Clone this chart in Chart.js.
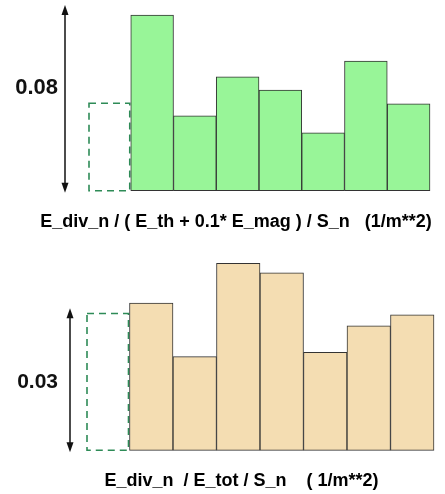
<!DOCTYPE html>
<html>
<head>
<meta charset="utf-8">
<script src="https://cdn.jsdelivr.net/npm/chart.js@4.4.0/dist/chart.umd.min.js"></script>
<style>
body { margin: 0; background: #fff; }
canvas { display: block; }
</style>
</head>
<body>
<canvas id="c1" width="445" height="245"></canvas>
<canvas id="c2" width="445" height="249"></canvas>
<script>
"use strict";

// bins: the first one is the reference bin (drawn as a dashed outline only)
let bins = ['ref', 'b1', 'b2', 'b3', 'b4', 'b5', 'b6', 'b7'];

let magVals = [0.0377, 0.0757, 0.0323, 0.0491, 0.0433, 0.0249, 0.0558, 0.0374];
let totVals = [0.0289, 0.0311, 0.0198, 0.0395, 0.0375, 0.0207, 0.0263, 0.0286];

// length of the scale arrow on the left of each panel
let magSpan = 0.08;
let totSpan = 0.03;

let magTitle = 'E_div_n / ( E_th + 0.1* E_mag ) / S_n   (1/m**2)';
let totTitle = 'E_div_n  / E_tot / S_n    ( 1/m**2)';

let FONT = '"Liberation Sans", Arial, sans-serif';

// dashed reference bar, scale arrow + its label, caption under the bars
let refBar = {
    id: 'refBar',
    beforeDatasetsDraw(chart, args, o) {
        let el = chart.getDatasetMeta(0).data[0];
        let p = el.getProps(['x', 'y', 'base', 'width'], true);
        let ctx = chart.ctx;
        ctx.save();
        ctx.strokeStyle = '#2e8b57';
        ctx.lineWidth = 1.6;
        ctx.setLineDash([7, 5]);
        ctx.strokeRect(p.x - p.width / 2 + 1, p.y, p.width - 2, p.base - p.y);
        ctx.restore();
    },
    afterDraw(chart, args, o) {
        let ctx = chart.ctx;
        let ys = chart.scales.y;
        let top = ys.getPixelForValue(o.span);
        let bot = ys.getPixelForValue(0) + 2;
        let x = o.arrowX;
        ctx.save();
        ctx.strokeStyle = '#111';
        ctx.fillStyle = '#111';
        ctx.lineWidth = 1.5;
        ctx.beginPath();
        ctx.moveTo(x, top + 6);
        ctx.lineTo(x, bot - 6);
        ctx.stroke();
        // heads
        ctx.beginPath();
        ctx.moveTo(x, top);
        ctx.lineTo(x - 3.5, top + 10);
        ctx.lineTo(x + 3.5, top + 10);
        ctx.closePath();
        ctx.fill();
        ctx.beginPath();
        ctx.moveTo(x, bot);
        ctx.lineTo(x - 3.5, bot - 10);
        ctx.lineTo(x + 3.5, bot - 10);
        ctx.closePath();
        ctx.fill();

        ctx.font = 'bold ' + o.labelSize + 'px ' + FONT;
        ctx.textAlign = 'right';
        ctx.textBaseline = 'middle';
        ctx.fillText(String(o.span), o.labelRight, top + (bot - top) * o.labelPos);

        ctx.font = 'bold 18px ' + FONT;
        ctx.textAlign = 'center';
        ctx.fillStyle = '#000';
        ctx.fillText(o.caption, o.captionX, ys.getPixelForValue(0) + 31);
        ctx.restore();
    }
};

function makeChart(id, vals, color, ymax, pad, o) {
    let opts = {
        type: 'bar',
        data: {
            labels: bins,
            datasets: [{
                data: vals,
                backgroundColor: c => c.dataIndex === 0 ? 'rgba(0,0,0,0)' : color,
                borderColor: '#333',
                borderWidth: c => c.dataIndex === 0 ? 0 : 1,
                borderSkipped: false,
                categoryPercentage: 1,
                barPercentage: 1,
                clip: false,
            }],
        },
        options: {
            responsive: false,
            animation: false,
            layout: { padding: pad },
            scales: {
                x: { display: false },
                y: { display: false, min: 0, max: ymax },
            },
            plugins: {
                legend: { display: false },
                tooltip: { enabled: false },
                refBar: o,
            },
        },
        plugins: [refBar],
    };
    return new Chart(document.querySelector(id), opts);
}

let chart1 = makeChart('#c1', magVals, '#98f598', 0.08,
    { left: 88, right: 15, top: 5, bottom: 54.3 },
    { span: magSpan, arrowX: 65, labelRight: 58, labelSize: 22, labelPos: 0.44,
      caption: magTitle, captionX: 236 });

let chart2 = makeChart('#c2', totVals, '#f4ddb2', 0.04,
    { left: 86, right: 11, top: 16, bottom: 43.7 },
    { span: totSpan, arrowX: 70, labelRight: 58, labelSize: 21, labelPos: 0.512,
      caption: totTitle, captionX: 241.5 });
</script>
</body>
</html>
